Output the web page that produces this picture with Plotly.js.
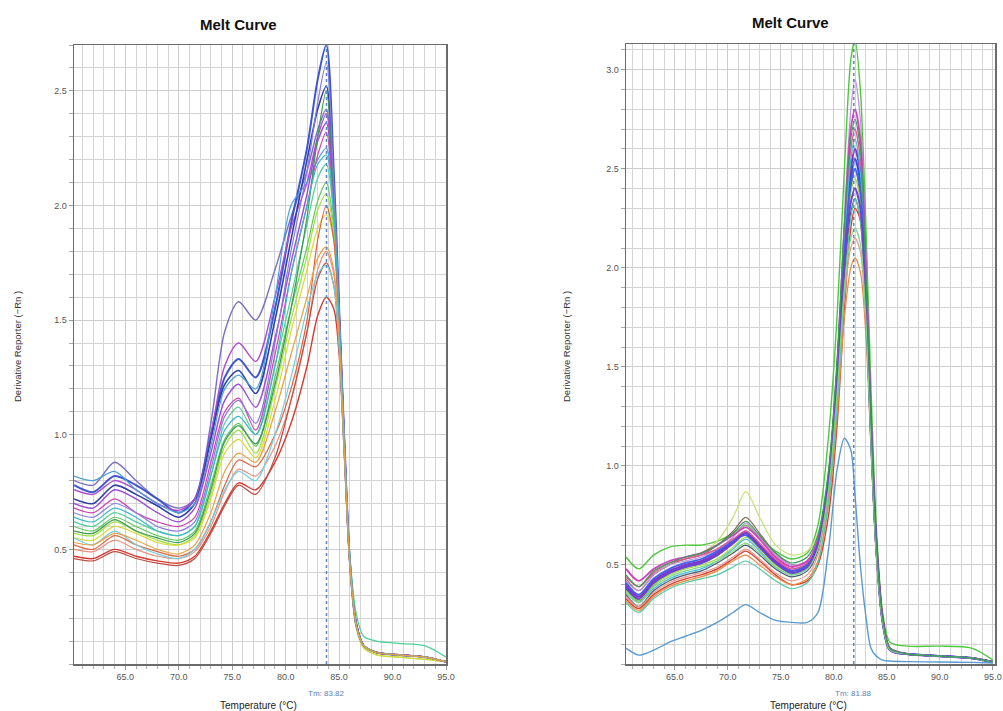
<!DOCTYPE html>
<html>
<head>
<meta charset="utf-8">
<script src="https://cdn.plot.ly/plotly-3.0.1.min.js"></script>
<style>
html,body{margin:0;padding:0;background:#fff;}
#chart{width:1003px;height:711px;}
</style>
</head>
<body>
<div id="chart"></div>
<script>
// ---------- LEFT PANEL DATA (Tm 83.82) ----------
const tempLeft = [60.2, 62, 64, 66, 68, 70, 71.5, 73, 74.3, 75.6, 77.2, 79, 80.5, 82, 83, 83.8, 84.5, 85.0, 85.5, 86.0, 86.6, 87.3, 88.5, 90.5, 93, 95];

const L01 = [0.80,0.78,0.88,0.80,0.72,0.68,0.72,1.05,1.45,1.58,1.50,1.72,1.95,2.15,2.33,2.42,2.00,1.52,0.95,0.45,0.17,0.08,0.05,0.04,0.03,0.01];
const L02 = [0.78,0.75,0.82,0.78,0.72,0.66,0.72,1.00,1.25,1.33,1.25,1.55,1.92,2.25,2.55,2.70,2.15,1.55,0.96,0.45,0.17,0.08,0.05,0.04,0.03,0.01];
const L03 = [0.76,0.74,0.80,0.76,0.70,0.67,0.72,1.00,1.30,1.40,1.32,1.60,1.90,2.10,2.30,2.40,2.00,1.52,0.95,0.45,0.17,0.08,0.05,0.04,0.03,0.01];
const L04 = [0.72,0.70,0.78,0.74,0.69,0.64,0.70,0.98,1.22,1.28,1.18,1.50,1.85,2.20,2.42,2.52,2.05,1.54,0.96,0.46,0.18,0.08,0.05,0.04,0.03,0.01];
const L05 = [0.82,0.80,0.84,0.76,0.70,0.66,0.70,0.95,1.20,1.26,1.20,1.60,2.00,2.10,2.20,2.25,1.95,1.50,0.94,0.45,0.17,0.08,0.05,0.04,0.03,0.01];
const L06 = [0.70,0.68,0.76,0.72,0.66,0.62,0.68,0.92,1.15,1.22,1.12,1.42,1.75,2.05,2.28,2.36,1.98,1.52,0.96,0.46,0.18,0.08,0.05,0.04,0.03,0.01];
const L07 = [0.68,0.66,0.72,0.66,0.62,0.60,0.64,0.88,1.10,1.16,1.02,1.35,1.70,2.00,2.22,2.32,1.97,1.51,0.95,0.45,0.17,0.08,0.05,0.04,0.03,0.01];
const L08 = [0.62,0.60,0.66,0.62,0.58,0.56,0.60,0.82,1.05,1.12,1.00,1.30,1.60,1.92,2.12,2.18,1.95,1.50,0.96,0.48,0.22,0.12,0.10,0.09,0.08,0.03];
const L09 = [0.60,0.58,0.64,0.60,0.56,0.54,0.58,0.78,0.98,1.05,0.95,1.25,1.55,1.82,2.02,2.10,1.90,1.48,0.94,0.45,0.17,0.08,0.05,0.04,0.03,0.01];
const L10 = [0.57,0.56,0.62,0.58,0.54,0.52,0.56,0.74,0.95,1.02,0.92,1.20,1.50,1.78,1.98,2.05,1.88,1.47,0.93,0.44,0.16,0.07,0.04,0.03,0.02,0.01];
const L11 = [0.55,0.54,0.60,0.57,0.53,0.52,0.55,0.72,0.92,0.98,0.90,1.15,1.45,1.72,1.90,1.96,1.85,1.46,0.93,0.44,0.16,0.07,0.04,0.03,0.02,0.01];
const L12 = [0.58,0.57,0.63,0.58,0.55,0.53,0.57,0.76,0.97,1.04,0.96,1.22,1.55,1.95,2.30,2.50,2.05,1.53,0.95,0.45,0.17,0.08,0.05,0.04,0.03,0.01];
const L13 = [0.52,0.50,0.56,0.52,0.49,0.47,0.50,0.62,0.78,0.89,0.86,1.00,1.20,1.50,1.85,2.00,1.85,1.46,0.93,0.45,0.17,0.08,0.05,0.04,0.03,0.01];
const L14 = [0.50,0.49,0.54,0.50,0.47,0.46,0.49,0.60,0.75,0.85,0.82,0.95,1.15,1.45,1.72,1.80,1.70,1.40,0.91,0.44,0.17,0.08,0.05,0.04,0.03,0.01];
const L15 = [0.47,0.46,0.50,0.47,0.45,0.44,0.47,0.58,0.70,0.79,0.76,0.88,1.05,1.30,1.52,1.60,1.55,1.35,0.90,0.44,0.17,0.08,0.05,0.04,0.03,0.01];
const L16 = [0.46,0.45,0.49,0.46,0.44,0.43,0.46,0.57,0.69,0.78,0.74,0.90,1.15,1.45,1.68,1.75,1.65,1.38,0.91,0.44,0.17,0.08,0.05,0.04,0.03,0.01];
const L17 = [0.55,0.52,0.58,0.52,0.48,0.46,0.50,0.62,0.76,0.84,0.80,1.00,1.25,1.55,1.70,1.74,1.65,1.38,0.90,0.44,0.17,0.08,0.05,0.04,0.03,0.01];
const L18 = [0.66,0.64,0.70,0.66,0.60,0.58,0.62,0.85,1.08,1.15,1.05,1.40,1.80,2.15,2.45,2.62,2.10,1.55,0.96,0.45,0.17,0.08,0.05,0.04,0.03,0.01];
const L19 = [0.64,0.62,0.68,0.64,0.58,0.56,0.60,0.82,1.02,1.08,1.00,1.30,1.70,2.00,2.18,2.22,1.96,1.50,0.95,0.45,0.17,0.08,0.05,0.04,0.03,0.01];
const L20 = [0.53,0.52,0.57,0.54,0.50,0.48,0.52,0.66,0.84,0.92,0.88,1.10,1.35,1.60,1.77,1.82,1.72,1.42,0.92,0.44,0.17,0.08,0.05,0.04,0.03,0.01];

const leftSeries = [L01,L02,L03,L04,L05,L06,L07,L08,L09,L10,L11,L12,L13,L14,L15,L16,L17,L18,L19,L20];
const leftTm = 83.82;

// ---------- RIGHT PANEL DATA (Tm 81.88) ----------
const tempRight = [60.4, 61.6, 63, 64.5, 66, 67.5, 69, 70.5, 71.7, 73, 74.5, 76, 77.5, 78.5, 79.5, 80.3, 81.0, 81.6, 82.0, 82.5, 83.0, 83.5, 84.0, 84.6, 85.3, 87, 90, 93, 95];

const R01 = [0.54,0.48,0.55,0.59,0.60,0.60,0.62,0.66,0.70,0.64,0.57,0.53,0.56,0.70,1.15,1.75,2.50,3.05,3.15,2.90,2.25,1.40,0.70,0.26,0.11,0.09,0.09,0.08,0.02];
const R02 = [0.45,0.39,0.46,0.50,0.53,0.56,0.62,0.74,0.87,0.74,0.60,0.55,0.57,0.66,0.95,1.45,2.10,2.55,2.65,2.50,1.95,1.20,0.60,0.22,0.07,0.05,0.04,0.03,0.01];
const R03 = [0.43,0.37,0.45,0.50,0.53,0.55,0.60,0.67,0.74,0.66,0.56,0.50,0.52,0.62,0.90,1.40,2.05,2.40,2.50,2.35,1.85,1.15,0.58,0.21,0.07,0.05,0.04,0.03,0.01];
const R04 = [0.42,0.37,0.45,0.50,0.52,0.54,0.58,0.64,0.71,0.64,0.55,0.50,0.52,0.63,0.95,1.50,2.25,2.80,2.95,2.75,2.10,1.28,0.64,0.24,0.07,0.05,0.04,0.03,0.01];
const R05 = [0.48,0.42,0.48,0.52,0.54,0.56,0.60,0.65,0.69,0.63,0.54,0.49,0.52,0.63,0.95,1.50,2.20,2.70,2.80,2.65,2.05,1.25,0.63,0.23,0.08,0.05,0.04,0.03,0.01];
const R06 = [0.40,0.34,0.42,0.47,0.50,0.52,0.56,0.62,0.67,0.60,0.52,0.47,0.50,0.61,0.92,1.45,2.10,2.50,2.60,2.48,1.95,1.22,0.62,0.23,0.07,0.05,0.04,0.03,0.01];
const R07 = [0.38,0.32,0.40,0.46,0.49,0.51,0.55,0.61,0.66,0.59,0.51,0.46,0.49,0.60,0.92,1.45,2.10,2.45,2.55,2.43,1.90,1.18,0.60,0.22,0.07,0.05,0.04,0.03,0.01];
const R08 = [0.44,0.39,0.46,0.51,0.53,0.55,0.58,0.63,0.67,0.61,0.53,0.48,0.51,0.62,0.94,1.48,2.15,2.60,2.70,2.55,2.00,1.22,0.61,0.22,0.07,0.05,0.04,0.03,0.01];
const R09 = [0.36,0.31,0.38,0.43,0.46,0.48,0.52,0.58,0.63,0.57,0.49,0.45,0.48,0.59,0.90,1.42,2.10,2.55,2.65,2.48,1.92,1.16,0.58,0.21,0.07,0.05,0.04,0.03,0.01];
const R10 = [0.35,0.29,0.37,0.42,0.45,0.47,0.51,0.56,0.60,0.55,0.48,0.44,0.47,0.57,0.88,1.38,1.95,2.28,2.35,2.24,1.80,1.12,0.56,0.21,0.07,0.05,0.04,0.03,0.01];
const R11 = [0.33,0.28,0.35,0.40,0.43,0.45,0.48,0.53,0.57,0.52,0.45,0.40,0.42,0.50,0.75,1.20,1.80,2.20,2.30,2.24,1.85,1.20,0.62,0.24,0.08,0.05,0.04,0.03,0.01];
const R12 = [0.32,0.27,0.34,0.39,0.42,0.44,0.47,0.52,0.55,0.50,0.44,0.40,0.43,0.52,0.80,1.25,1.75,2.00,2.05,1.98,1.68,1.10,0.56,0.21,0.07,0.05,0.04,0.03,0.01];
const R13 = [0.34,0.29,0.36,0.41,0.44,0.46,0.49,0.54,0.58,0.53,0.46,0.42,0.45,0.55,0.85,1.30,1.85,2.10,2.15,2.08,1.74,1.12,0.57,0.21,0.07,0.05,0.04,0.03,0.01];
const R14 = [0.31,0.26,0.33,0.38,0.41,0.43,0.45,0.49,0.52,0.48,0.42,0.38,0.41,0.51,0.82,1.30,1.90,2.25,2.35,2.24,1.80,1.12,0.57,0.21,0.07,0.05,0.04,0.03,0.01];
const R15 = [0.37,0.32,0.40,0.45,0.48,0.50,0.53,0.59,0.64,0.58,0.50,0.46,0.49,0.60,0.92,1.44,2.05,2.38,2.45,2.34,1.86,1.15,0.58,0.21,0.07,0.05,0.04,0.03,0.01];
const R16 = [0.41,0.35,0.43,0.48,0.51,0.53,0.57,0.62,0.65,0.59,0.51,0.47,0.50,0.61,0.93,1.46,2.08,2.42,2.50,2.39,1.90,1.18,0.60,0.22,0.07,0.05,0.04,0.03,0.01];
const R17 = [0.39,0.33,0.41,0.46,0.49,0.51,0.55,0.61,0.66,0.59,0.51,0.46,0.49,0.60,0.92,1.44,2.02,2.33,2.40,2.30,1.85,1.15,0.58,0.21,0.07,0.05,0.04,0.03,0.01];
const R18 = [0.36,0.31,0.39,0.44,0.47,0.49,0.52,0.57,0.61,0.56,0.49,0.45,0.48,0.58,0.88,1.36,1.90,2.15,2.20,2.12,1.76,1.12,0.56,0.21,0.07,0.05,0.04,0.03,0.01];
const R19 = [0.45,0.39,0.47,0.51,0.54,0.56,0.60,0.66,0.72,0.65,0.56,0.51,0.54,0.65,0.98,1.52,2.22,2.65,2.75,2.60,2.02,1.24,0.62,0.23,0.08,0.05,0.04,0.03,0.01];
const R20 = [0.08,0.045,0.07,0.11,0.14,0.17,0.21,0.26,0.30,0.26,0.22,0.21,0.21,0.26,0.58,0.98,1.14,1.08,0.85,0.50,0.25,0.08,0.04,0.02,0.015,0.012,0.01,0.008,0.005];

const rightSeries = [R01,R02,R03,R04,R05,R06,R07,R08,R09,R10,R11,R12,R13,R14,R15,R16,R17,R18,R19,R20];
const rightTm = 81.88;

const xTickVals = [65, 70, 75, 80, 85, 90, 95];

// ---------- STYLES ----------
const leftColors = ['#7b6fc0','#3d55d0','#b04ccf','#2f3fa8','#4aa0d8','#9a4fd6','#d040b0','#4fcf9a','#5cc85c','#9ee03a',
                    '#d8d83a','#3a9a50','#e0603a','#e89080','#d63a30','#c04a40','#70d0e0','#8a7ae0','#38b8c8','#eba040'];
const leftWidths = [1.4,2,1.4,1.6,1.2,1.4,1.2,1.2,1.2,1.2,1.2,1.2,1.2,1.2,1.4,1.2,1.2,1.2,1.2,1.2];
const rightColors = ['#4cc83c','#c8e070','#8a6a50','#c090e0','#d040c0','#8a30c8','#3050d8','#e05890','#40b8e0','#4a5a70',
                     '#d84030','#e88a40','#e89a90','#50c8a0','#a0d840','#4060e8','#7040d0','#80d880','#3a9a5a','#5a9ad0'];
const rightWidths = [1.4,1.2,1.2,1.2,1.8,2.2,2,1.4,1.2,1.2,1.4,1.2,1.2,1.2,1.2,1.8,2,1.2,1.2,1.4];

const traces = [];
leftSeries.forEach((ys, i) => {
  traces.push({x: tempLeft, y: ys, xaxis: 'x', yaxis: 'y', type: 'scatter', mode: 'lines',
    line: {color: leftColors[i], width: leftWidths[i], shape: 'spline', smoothing: 0.8}, hoverinfo: 'skip'});
});
rightSeries.forEach((ys, i) => {
  traces.push({x: tempRight, y: ys, xaxis: 'x2', yaxis: 'y2', type: 'scatter', mode: 'lines',
    line: {color: rightColors[i], width: rightWidths[i], shape: 'spline', smoothing: 0.8}, hoverinfo: 'skip'});
});

const W = 1003, H = 711;
const FAM = 'Liberation Sans, Arial, sans-serif';
const tickFont = {family: FAM, size: 9, color: '#555'};
function xAxis(domain, range) {
  return {domain: domain, range: range, tickmode: 'array', tickvals: xTickVals,
    ticktext: xTickVals.map(v => v.toFixed(1)), tickfont: tickFont,
    showgrid: true, gridcolor: '#cdcdcd', gridwidth: 1, zeroline: false,
    showline: true, mirror: true, linecolor: '#6b6b6b', linewidth: 1.5,
    ticks: 'outside', ticklen: 4, tickcolor: '#999',
    minor: {tickmode: 'linear', tick0: 0, dtick: 1, showgrid: true, gridcolor: '#d4d4d4', gridwidth: 1, ticks: 'outside', ticklen: 3, tickcolor: '#aaa'}};
}
function yAxis(domain, range, anchor, vals) {
  return {domain: domain, range: range, anchor: anchor, tickmode: 'array', tickvals: vals,
    ticktext: vals.map(v => v.toFixed(1)), tickfont: tickFont,
    showgrid: true, gridcolor: '#cdcdcd', gridwidth: 1, zeroline: false,
    showline: true, mirror: true, linecolor: '#6b6b6b', linewidth: 1.5,
    ticks: 'outside', ticklen: 4, tickcolor: '#999',
    minor: {tickmode: 'linear', tick0: 0, dtick: 0.1, showgrid: true, gridcolor: '#d4d4d4', gridwidth: 1, ticks: 'outside', ticklen: 4, tickcolor: '#aaa'}};
}

const yDomL = [(H - 664) / H, (H - 45) / H];
const yDomR = [(H - 664) / H, (H - 44) / H];

function note(text, x, y, size, color, extra) {
  return Object.assign({text: text, xref: 'paper', yref: 'paper', x: x / W, y: (H - y) / H,
    xanchor: 'center', yanchor: 'middle', showarrow: false, font: {family: FAM, size: size, color: color}}, extra || {});
}

const layout = {
  width: W, height: H, margin: {l: 0, r: 0, t: 0, b: 0},
  paper_bgcolor: '#fff', plot_bgcolor: '#fff', showlegend: false,
  xaxis: Object.assign(xAxis([74 / W, 446 / W], [60.2, 95]), {anchor: 'y'}),
  yaxis: yAxis(yDomL, [0, 2.7], 'x', [0.5, 1.0, 1.5, 2.0, 2.5]),
  xaxis2: Object.assign(xAxis([626 / W, 995 / W], [60.4, 95.2]), {anchor: 'y2'}),
  yaxis2: yAxis(yDomR, [0, 3.13], 'x2', [0.5, 1.0, 1.5, 2.0, 2.5, 3.0]),
  shapes: [
    {type: 'line', xref: 'x', yref: 'y', x0: leftTm, x1: leftTm, y0: 0, y1: 2.7, line: {color: '#5a86c0', width: 1.5, dash: 'dot'}},
    {type: 'line', xref: 'x2', yref: 'y2', x0: rightTm, x1: rightTm, y0: 0, y1: 3.13, line: {color: '#5a86c0', width: 1.5, dash: 'dot'}}
  ],
  annotations: [
    note('<b>Melt Curve</b>', 238, 24, 15, '#111'),
    note('<b>Melt Curve</b>', 790, 23, 15, '#111'),
    note('Derivative Reporter (−Rn )', 17, 347, 9.5, '#333', {textangle: -90}),
    note('Derivative Reporter (−Rn )', 566, 347, 9.5, '#333', {textangle: -90}),
    note('Temperature (°C)', 258, 705, 10, '#222'),
    note('Temperature (°C)', 808, 705, 10, '#222'),
    {text: 'Tm: ' + leftTm.toFixed(2), xref: 'x', yref: 'paper', x: leftTm, y: (H - 693) / H, xanchor: 'center', yanchor: 'middle',
      showarrow: false, font: {family: FAM, size: 8, color: '#5a80b8'}},
    {text: 'Tm: ' + rightTm.toFixed(2), xref: 'x2', yref: 'paper', x: rightTm, y: (H - 693) / H, xanchor: 'center', yanchor: 'middle',
      showarrow: false, font: {family: FAM, size: 8, color: '#5a80b8'}}
  ]
};

Plotly.newPlot('chart', traces, layout, {staticPlot: true, displayModeBar: false});
</script>
</body>
</html>
